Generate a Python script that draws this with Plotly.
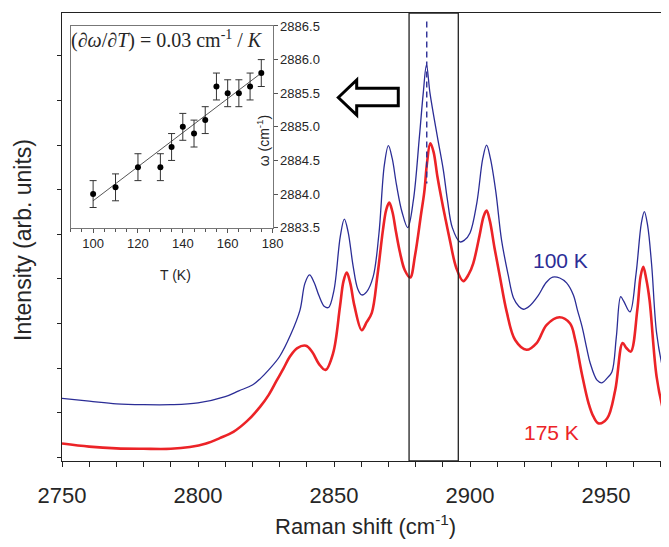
import plotly.graph_objects as go

# ---------------- data ----------------
shift_100K = [2750, 2760, 2770, 2780, 2790, 2800, 2810, 2815, 2820, 2823, 2826, 2830, 2834, 2837.5,
              2839.3, 2841, 2842.7, 2844.5, 2846.5, 2848, 2850, 2852.3, 2853.8, 2855.2, 2857, 2858.7,
              2860.2, 2862, 2864.4, 2866.5, 2868.5, 2870, 2871.4, 2873, 2875, 2877.1, 2879.2, 2881.4,
              2882.8, 2884.0, 2885.3, 2888, 2890.2, 2891.7, 2893.5, 2896.3, 2898, 2900, 2902.5, 2904.7,
              2906.1, 2907.5, 2909.5, 2911.6, 2914, 2916, 2918, 2919.6, 2922, 2925, 2928, 2930.4, 2933,
              2935.5, 2938, 2939.5, 2941.2, 2942.9, 2944.2, 2946.7, 2948.5, 2950.5, 2952.2, 2953.8,
              2955.4, 2956.5, 2958.8, 2961, 2963, 2964.1, 2965.3, 2966.8, 2968.6, 2971, 2973.2]
int_100K = [1.32, 1.26, 1.20, 1.18, 1.18, 1.22, 1.36, 1.49, 1.62, 1.77, 1.96, 2.26, 2.74, 3.30,
            3.90, 4.09, 3.92, 3.62, 3.38, 3.36, 3.75, 4.95, 5.34, 5.05, 4.30, 3.78,
            3.64, 3.71, 4.05, 5.00, 6.55, 6.99, 6.70, 6.10, 5.50, 5.15, 5.77, 7.19,
            8.16, 8.80, 8.16, 7.19, 6.44, 5.77, 5.15, 4.83, 4.87, 5.03, 5.70, 6.70,
            7.00, 6.70, 5.95, 4.87, 4.10, 3.57, 3.38, 3.32, 3.40, 3.62, 3.92, 4.04, 4.02,
            3.91, 3.64, 3.30, 2.93, 2.45, 2.11, 1.73, 1.67, 1.78, 1.92, 2.70,
            3.60, 3.50, 3.26, 4.09, 5.25, 5.51, 5.20, 4.30, 2.79, 1.96, 1.51]

shift_175K = [2750, 2760, 2770, 2780, 2790, 2797, 2803, 2808, 2813, 2818, 2822.8, 2826, 2829, 2831.5,
              2833.8, 2836.5, 2839.7, 2842, 2844.5, 2846.9, 2849.7, 2852.2, 2853.5, 2854.7, 2856,
              2857.5, 2860.2, 2862, 2863.9, 2866, 2868, 2869.2, 2870.3, 2871.5, 2872.8, 2874.3, 2876,
              2878, 2879.8, 2882, 2883.2, 2884.2, 2885.4, 2886.6, 2888, 2889.5, 2890.8, 2892.6, 2895,
              2897.5, 2899.5, 2901.2, 2903.5, 2905, 2906.1, 2907.3, 2909, 2911, 2913.5, 2916.6, 2920.8,
              2924.5, 2928.2, 2932.9, 2936.8, 2938.7, 2941.1, 2943.6, 2945.4, 2947.3, 2950.4, 2953.4,
              2956.1, 2957.5, 2959.1, 2961.5, 2962.7, 2963.7, 2964.8, 2966, 2968.6, 2971, 2973.2]
int_175K = [0.31, 0.24, 0.20, 0.19, 0.19, 0.23, 0.31, 0.43, 0.57, 0.81, 1.13, 1.40, 1.73, 2.00,
            2.26, 2.45, 2.50, 2.36, 2.09, 1.96, 2.34, 3.38, 3.95, 4.14, 3.90,
            3.40, 2.85, 3.03, 3.24, 4.09, 5.10, 5.55, 5.71, 5.50, 5.05, 4.58, 4.20,
            4.03, 4.53, 5.45, 5.95, 6.60, 7.04, 6.85, 6.30, 5.80, 5.40, 4.87, 4.24,
            3.95, 4.10, 4.35, 4.97, 5.40, 5.53, 5.30, 4.70, 4.05, 3.26, 2.63, 2.41,
            2.56, 2.97, 3.14, 3.00, 2.63, 1.88, 1.21, 0.91, 0.76, 0.87, 1.51,
            2.56, 2.45, 2.37, 3.30, 4.05, 4.27, 4.00, 3.53, 1.81, 1.06, 0.61]

# inset: peak position vs temperature
temp_K = [100, 110, 120, 130, 135, 140, 145, 150, 155, 160, 165, 170, 175]
omega = [2884.0, 2884.1, 2884.4, 2884.4, 2884.7, 2885.0, 2884.9, 2885.1, 2885.6, 2885.5, 2885.5, 2885.6, 2885.8]
omega_err = [0.2] * len(temp_K)
fit_T = [100, 175]
fit_omega = [2883.9, 2885.8]

x_ticks = [2750, 2800, 2850, 2900, 2950]
inset_x_ticks = [100, 120, 140, 160, 180]
inset_y_ticks = [2883.5, 2884.0, 2884.5, 2885.0, 2885.5, 2886.0, 2886.5]

box_range = [2877.6, 2895.7]
peak_100K = 2884.1
# --------------------------------------

BLUE = "#2B2D96"
RED = "#EC2327"
TXT = "#262626"
FONT = "Liberation Sans, Arial, sans-serif"

fig = go.Figure()

fig.add_trace(go.Scatter(x=shift_100K, y=int_100K, mode="lines",
                         line=dict(color=BLUE, width=1.3, shape="spline", smoothing=1.0),
                         hoverinfo="skip", showlegend=False))
fig.add_trace(go.Scatter(x=shift_175K, y=int_175K, mode="lines",
                         line=dict(color=RED, width=2.6, shape="spline", smoothing=1.0),
                         hoverinfo="skip", showlegend=False))

# dashed marker line on the 100 K peak
fig.add_trace(go.Scatter(x=[peak_100K, peak_100K], y=[9.77, 6.14], mode="lines",
                         line=dict(color=BLUE, width=1.4, dash="6px,4px"),
                         hoverinfo="skip", showlegend=False))

# inset
fig.add_trace(go.Scatter(x=fit_T, y=fit_omega, mode="lines",
                         line=dict(color="#555555", width=1),
                         xaxis="x2", yaxis="y2", hoverinfo="skip", showlegend=False))
fig.add_trace(go.Scatter(x=temp_K, y=omega, mode="markers",
                         marker=dict(color="black", size=6),
                         error_y=dict(type="data", array=omega_err, color="#333333",
                                      thickness=1, width=3.5),
                         xaxis="x2", yaxis="y2", hoverinfo="skip", showlegend=False))

X_END = 2750 + 607 / 2.72

# the page body adds an 8 px offset; the figure is sized to end exactly at the window edge
fig.update_layout(
    width=661, height=539,
    margin=dict(l=54, r=0, t=5, b=86, autoexpand=False),
    paper_bgcolor="white", plot_bgcolor="white",
    font=dict(family=FONT, color=TXT),
    xaxis=dict(range=[2750, X_END], tickvals=x_ticks, ticks="outside", ticklen=5,
               tickwidth=1, tickcolor="#222", showline=True, linecolor="#222", linewidth=1.2,
               mirror=True, showgrid=False, zeroline=False, automargin=False,
               ticklabelstandoff=9,
               tickfont=dict(size=22, color=TXT, family=FONT),
               minor=dict(dtick=10, tick0=2750, ticks="outside", ticklen=5, tickcolor="#222",
                          showgrid=False)),
    yaxis=dict(range=[-0.083, 9.962], tickvals=list(range(0, 10)), ticks="outside", ticklen=4,
               tickwidth=1, tickcolor="#222", showline=True, linecolor="#222", linewidth=1.2,
               showticklabels=False, showgrid=False, zeroline=False, automargin=False),
    xaxis2=dict(domain=[0.0143, 0.3468], anchor="y2", range=[90, 180], tickvals=inset_x_ticks,
                ticks="outside", ticklen=4, tickcolor="#555", showline=True, linecolor="#777",
                linewidth=1, mirror=True, showgrid=False, zeroline=False, automargin=False,
                tickfont=dict(size=13, color=TXT, family=FONT),
                minor=dict(dtick=5, tick0=90, ticks="outside", ticklen=3, tickcolor="#555")),
    yaxis2=dict(domain=[0.5208, 0.971], anchor="x2", side="right", range=[2883.5, 2886.5],
                tickvals=inset_y_ticks, tickformat=".1f", ticks="outside", ticklen=4,
                tickcolor="#555", showline=True, linecolor="#777", linewidth=1, mirror=True,
                showgrid=False, zeroline=False, automargin=False,
                tickfont=dict(size=13, color=TXT, family=FONT)),
)

# box around the peak region
fig.add_shape(type="rect", xref="x", yref="paper", x0=box_range[0], x1=box_range[1], y0=0, y1=1,
              line=dict(color="#222", width=1.3))

# helper: page pixel position -> paper fraction of the main plot area (62..669, 13..461)
def px(xp, yp):
    return (xp - 62) / 607, (461 - yp) / 448

# hollow arrow pointing to the inset
pts = [(338.3, 97.5), (356.7, 80), (356.7, 88.3), (398.3, 88.3), (398.3, 105.7), (356.7, 105.7), (356.7, 115)]
conv = [px(a, b) for a, b in pts]
path = "M " + " L ".join(f"{a:.4f},{b:.4f}" for a, b in conv) + " Z"
fig.add_shape(type="path", xref="paper", yref="paper", path=path,
              line=dict(color="black", width=3), fillcolor="white")

# text annotations
def note(x, y, text, size, color=TXT, family=FONT, angle=0, ref="paper"):
    fig.add_annotation(xref=ref if ref == "paper" else "x", yref=ref if ref == "paper" else "y",
                       x=x, y=y, text=text, showarrow=False, xanchor="center", yanchor="middle",
                       textangle=angle, font=dict(size=size, color=color, family=family))

note(2933.1, 4.41, "100 K", 21, color=BLUE, ref="data")
note(2929.8, 0.56, "175 K", 21, color=RED, ref="data")

note(*px(365.5, 525), "Raman shift (cm<sup>-1</sup>)", 22)
note(*px(23, 240), "Intensity (arb. units)", 23, angle=-90)

# inset texts
note(*px(166.5, 40), "(∂<i>ω</i>/∂<i>T</i>) = 0.03 cm<sup>-1</sup> / <i>K</i>", 20,
     family="Liberation Serif, Times New Roman, serif")
note(*px(175.5, 275), "T (K)", 14)
note(*px(263.3, 140), "ω (cm<sup>-1</sup>)", 14, angle=-90)

fig.write_html("out.html")
